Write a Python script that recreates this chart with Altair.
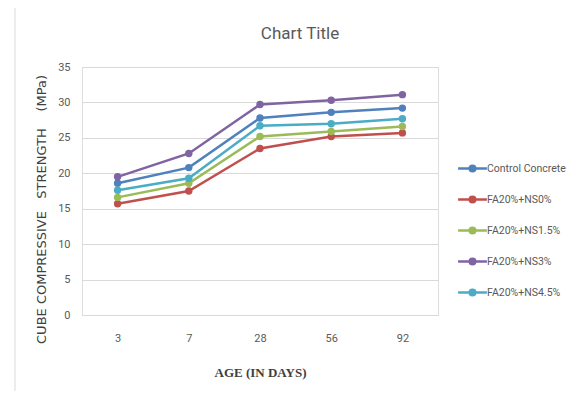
import altair as alt
import pandas as pd

ages = ["3", "7", "28", "56", "92"]
series = ["Control Concrete", "FA20%+NS0%", "FA20%+NS1.5%", "FA20%+NS3%", "FA20%+NS4.5%"]
control = [18.6, 20.8, 27.8, 28.6, 29.2]
ns0 = [15.7, 17.5, 23.5, 25.2, 25.7]
ns15 = [16.6, 18.6, 25.2, 25.9, 26.6]
ns3 = [19.5, 22.8, 29.7, 30.3, 31.1]
ns45 = [17.6, 19.3, 26.7, 27.0, 27.7]
colors = ["#4F81BD", "#C0504D", "#9BBB59", "#8064A2", "#4BACC6"]

rows = []
for name, vals in zip(series, [control, ns0, ns15, ns3, ns45]):
    for a, v in zip(ages, vals):
        rows.append({"age": a, "strength": v, "series": name})
df = pd.DataFrame(rows)

FONT = "Roboto, Noto Sans"
sym = "M-1.8,0L1.8,0M-0.35,0A0.35,0.35,0,1,1,0.35,0A0.35,0.35,0,1,1,-0.35,0Z"

lines = alt.Chart(df).mark_line(
    strokeWidth=2.5,
    point=alt.OverlayMarkDef(filled=True, size=55),
).encode(
    x=alt.X("age:O", sort=ages, scale=alt.Scale(type="point", padding=0.5),
            axis=alt.Axis(title="AGE (IN DAYS)", labelAngle=0, ticks=False, domain=False,
                          labelPadding=17, labelFontSize=11, labelColor="#595959", labelFont=FONT,
                          titleFont="Liberation Serif", titleFontWeight="bold", titleFontSize=13,
                          titleColor="#404040", titleY=57, titleBaseline="middle")),
    y=alt.Y("strength:Q", scale=alt.Scale(domain=[0, 35]),
            axis=alt.Axis(title="CUBE COMPRESSIVE\u00a0\u00a0\u00a0STRENGTH\u00a0\u00a0\u00a0\u00a0(MPa)",
                          values=[0, 5, 10, 15, 20, 25, 30, 35], ticks=False, domain=False,
                          labelPadding=12, labelFontSize=11, labelColor="#595959", labelFont=FONT,
                          gridColor="#d9d9d9", gridWidth=1,
                          titleFont="DejaVu Sans", titleFontWeight="normal", titleFontSize=13,
                          titleColor="#404040", titleX=-41, titleY=142, titleAngle=-90,
                          titleAlign="center", titleBaseline="middle")),
    color=alt.Color("series:N", sort=series,
                    scale=alt.Scale(domain=series, range=colors),
                    legend=alt.Legend(title=None, orient="none", legendX=381, legendY=92,
                                      symbolType=sym, symbolSize=256, symbolStrokeWidth=2.5,
                                      labelFont=FONT, labelFontSize=10.5, labelColor="#595959",
                                      rowPadding=13, labelOffset=5, labelLimit=200)),
)

frame = pd.DataFrame({"k": [0]})
top_border = alt.Chart(frame).mark_rule(color="#d9d9d9", strokeWidth=1).encode(
    x=alt.value(-67), x2=alt.value(520), y=alt.value(-62))
left_border = alt.Chart(frame).mark_rule(color="#d9d9d9", strokeWidth=1).encode(
    x=alt.value(-67), y=alt.value(-62), y2=alt.value(330))

chart = alt.layer(top_border, left_border, lines).properties(
    width=356, height=248,
    title=alt.TitleParams("Chart Title", font=FONT, fontSize=17, fontWeight="normal",
                          color="#595959", anchor="middle", frame="group", dx=40,
                          baseline="alphabetic", offset=-51),
    autosize=alt.AutoSizeParams(type="none"),
    padding={"left": 74, "top": 59, "right": 132, "bottom": 76},
).configure_view(stroke=None).configure(background="white")

chart.save("out.html", embed_options={"renderer": "svg", "actions": False})
